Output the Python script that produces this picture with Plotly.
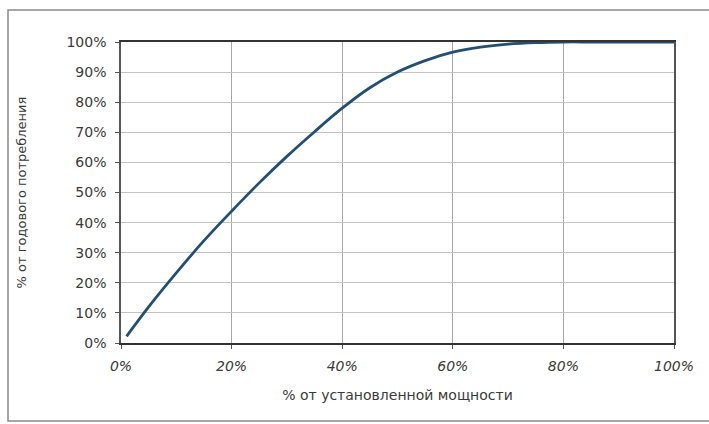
import plotly.graph_objects as go

capacity_pct = [1, 5, 10, 15, 20, 25, 30, 35, 40, 45, 50, 55, 60, 65, 70, 75, 80, 85, 90, 95, 100]
consumption_pct = [2.2, 12, 23.3, 34, 43.8, 53.2, 62, 70.2, 78, 84.8, 90, 93.8, 96.6, 98.3, 99.3, 99.8, 100, 100, 100, 100, 100]

x_ticks = [0, 20, 40, 60, 80, 100]
x_tick_labels = ["0%", "20%", "40%", "60%", "80%", "100%"]
y_ticks = [0, 10, 20, 30, 40, 50, 60, 70, 80, 90, 100]
y_tick_labels = ["0%", "10%", "20%", "30%", "40%", "50%", "60%", "70%", "80%", "90%", "100%"]

x_title = "% от установленной мощности"
y_title = "% от годового потребления"

fig = go.Figure()
fig.add_trace(go.Scatter(
    x=capacity_pct, y=consumption_pct, mode="lines",
    line=dict(color="#234f73", width=2.8, shape="spline", smoothing=1.0),
    showlegend=False,
))

font_family = "DejaVu Sans, Arial, sans-serif"
fig.update_layout(
    width=709, height=424,
    margin=dict(l=121, r=35, t=42, b=81),
    paper_bgcolor="white", plot_bgcolor="white",
    font=dict(family=font_family, size=14, color="#3a3a3a"),
    xaxis=dict(
        range=[0, 100], tickmode="array", tickvals=x_ticks, ticktext=x_tick_labels,
        tickfont=dict(family=font_family, size=14, color="#3a3a3a", style="italic"),
        showgrid=True, gridcolor="#a8a8a8", gridwidth=1,
        showline=True, linecolor="#333333", linewidth=1.5, mirror=True,
        ticks="outside", ticklen=4, tickcolor="#555555",
        ticklabelstandoff=5,
        title=dict(text=x_title, font=dict(size=14, color="#3a3a3a"), standoff=18),
        zeroline=False,
    ),
    yaxis=dict(
        range=[0, 100], tickmode="array", tickvals=y_ticks, ticktext=y_tick_labels,
        tickfont=dict(family=font_family, size=14, color="#3a3a3a"),
        showgrid=True, gridcolor="#c4c4c4", gridwidth=1,
        showline=True, linecolor="#555555", linewidth=1.5, mirror=True,
        ticks="outside", ticklen=4, tickcolor="#555555",
        ticklabelstandoff=6,
        title=dict(text=y_title, font=dict(size=13, color="#3a3a3a"), standoff=37),
        zeroline=False,
    ),
)

# outer chart frame (scan border)
fig.add_shape(type="rect", xref="paper", yref="paper",
              x0=(8 - 121) / 553, x1=(712 - 121) / 553,
              y0=(343 - 421) / 301, y1=(343 - 10) / 301,
              line=dict(color="#8a8a8a", width=1.5), layer="below")

fig.write_html("out.html", config={"displayModeBar": False},
               post_script="document.body.style.margin='0px';")
